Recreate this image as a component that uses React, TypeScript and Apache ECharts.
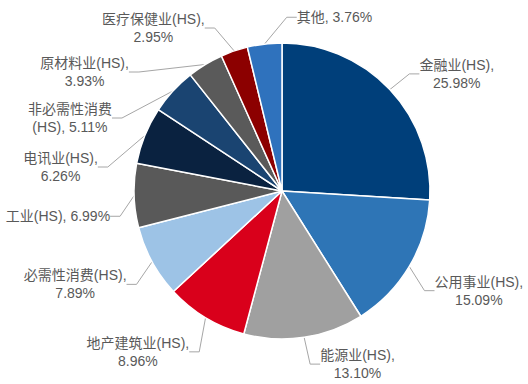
import React, { useEffect, useRef } from "react";
import * as echarts from "echarts";

const names = [
  "金融业(HS)",
  "公用事业(HS)",
  "能源业(HS)",
  "地产建筑业(HS)",
  "必需性消费(HS)",
  "工业(HS)",
  "电讯业(HS)",
  "非必需性消费(HS)",
  "原材料业(HS)",
  "医疗保健业(HS)",
  "其他",
];
const values = [25.98, 15.09, 13.1, 8.96, 7.89, 6.99, 6.26, 5.11, 3.93, 2.95, 3.76];
const labels = [
  "金融业(HS),\n25.98%",
  "公用事业(HS),\n15.09%",
  "能源业(HS),\n13.10%",
  "地产建筑业(HS),\n8.96%",
  "必需性消费(HS),\n7.89%",
  "工业(HS), 6.99%",
  "电讯业(HS),\n6.26%",
  "非必需性消费\n(HS), 5.11%",
  "原材料业(HS),\n3.93%",
  "医疗保健业(HS),\n2.95%",
  "其他, 3.76%",
];
const colors = [
  "#003f7a",
  "#2e75b6",
  "#a0a0a0",
  "#d9001b",
  "#9dc3e6",
  "#595959",
  "#0a2240",
  "#1a4471",
  "#5a5a5a",
  "#8c0000",
  "#2f72bd",
];

// small nudges of each label relative to ECharts' own label layout
const nudgeX = [0, -7, -2, 9, 3, 6, -8, -4, -8, -8, 0];
const nudgeY = [-2, 14, 7, 17, 13, 20, 1, -10, -18, -4, 0];

export default function App() {
  const ref = useRef<HTMLDivElement>(null);
  useEffect(() => {
    if (!ref.current) return;
    const chart = echarts.init(ref.current, undefined, { renderer: "svg" });
    chart.setOption({
      animation: false,
      backgroundColor: "#ffffff",
      series: [
        {
          type: "pie",
          center: [282, 191],
          radius: 148,
          startAngle: 90,
          clockwise: true,
          avoidLabelOverlap: true,
          data: names.map((n, i) => ({
            name: n,
            value: values[i],
            itemStyle: { color: colors[i] },
            label: { formatter: labels[i] },
          })),
          itemStyle: { borderColor: "#ffffff", borderWidth: 1.5 },
          label: {
            color: "#595959",
            fontSize: 14,
            lineHeight: 18,
            overflow: "none",
            fontFamily: "Liberation Sans, Noto Sans CJK SC, sans-serif",
            align: "center",
          },
          labelLine: {
            length: 20,
            length2: 10,
            lineStyle: { color: "#a6a6a6", width: 1 },
          },
          labelLayout: (params: any) => {
            const i = params.dataIndex;
            const r = params.labelRect;
            if (i === names.length - 1) {
              return {
                x: params.rect.x + params.rect.width + 14,
                y: params.rect.y - 25,
                align: "left",
                verticalAlign: "middle",
              };
            }
            return {
              x: r.x + r.width / 2 + nudgeX[i],
              y: r.y + r.height / 2 + nudgeY[i],
              align: "center",
              verticalAlign: "middle",
            };
          },
        },
      ],
    });
    return () => chart.dispose();
  }, []);
  return (
    <div
      ref={ref}
      style={{ position: "fixed", left: 0, top: 0, width: 528, height: 384 }}
    />
  );
}
